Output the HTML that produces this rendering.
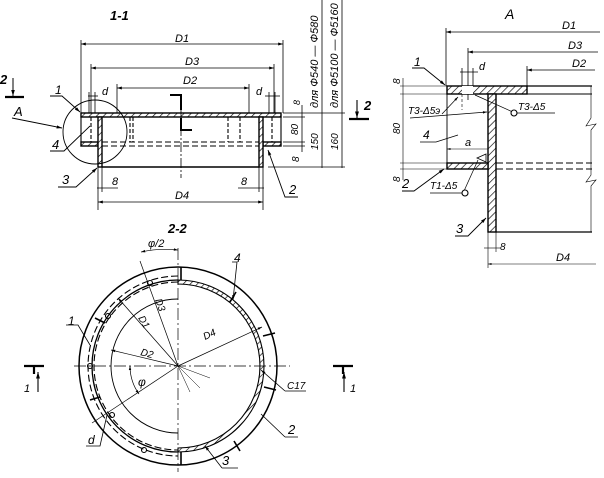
<!DOCTYPE html>
<html><head><meta charset="utf-8"><style>
html,body{margin:0;padding:0;background:#fff}
svg{display:block}
text{font-family:"Liberation Sans",sans-serif;font-style:italic;fill:#000}
</style></head><body>
<svg width="604" height="478" viewBox="0 0 604 478" xmlns="http://www.w3.org/2000/svg">
<defs>
<pattern id="h" width="5" height="5" patternUnits="userSpaceOnUse" patternTransform="rotate(45)">
<rect width="5" height="5" fill="#fff"/><line x1="0" y1="0" x2="0" y2="5" stroke="#000" stroke-width="1.3"/></pattern>
<marker id="a" viewBox="0 0 10 10" refX="10" refY="5" markerWidth="6" markerHeight="6" orient="auto-start-reverse"><path d="M0,2L10,5L0,8z" fill="#000"/></marker>
</defs>
<g stroke="#000" fill="none" stroke-width="1.1">
<!-- ===== Section 1-1 ===== -->
<text x="110" y="20" font-size="13" stroke="none" font-weight="bold">1-1</text>
<rect x="81" y="113" width="200" height="4" fill="url(#h)" stroke-width="1.4"/>
<rect x="81" y="142" width="17" height="4" fill="url(#h)" stroke-width="1.4"/>
<rect x="263" y="142" width="18" height="4" fill="url(#h)" stroke-width="1.4"/>
<rect x="98" y="117" width="4" height="50" fill="url(#h)" stroke-width="1.4"/>
<rect x="259" y="117" width="4" height="50" fill="url(#h)" stroke-width="1.4"/>
<line x1="102" y1="167" x2="259" y2="167" stroke-width="1.4"/>
<line x1="81" y1="117" x2="81" y2="142"/>
<line x1="281" y1="117" x2="281" y2="142"/>
<line x1="102" y1="142" x2="259" y2="142" stroke-dasharray="6,3"/>
<line x1="102" y1="146" x2="259" y2="146" stroke-dasharray="6,3"/>
<line x1="130" y1="117" x2="130" y2="142" stroke-dasharray="4,2"/>
<line x1="133" y1="117" x2="133" y2="142" stroke-dasharray="4,2"/>
<line x1="228" y1="117" x2="228" y2="142" stroke-dasharray="4,2"/>
<line x1="240" y1="117" x2="240" y2="142" stroke-dasharray="4,2"/>
<line x1="91" y1="117" x2="91" y2="142" stroke-dasharray="4,2"/>
<line x1="272" y1="117" x2="272" y2="142" stroke-dasharray="4,2"/>
<line x1="181" y1="110" x2="181" y2="178" stroke-dasharray="10,2,2,2" stroke-width="0.8"/>
<path d="M170,95 H181 V110" stroke-width="2"/>
<path d="M181,118 V130 H192" stroke-width="2"/>
<circle cx="95" cy="132" r="32" stroke-width="0.9"/>
<line x1="81" y1="44" x2="283" y2="44" marker-start="url(#a)" marker-end="url(#a)" stroke-width="0.8"/>
<line x1="81" y1="40" x2="81" y2="113" stroke-width="0.8"/>
<line x1="283" y1="40" x2="283" y2="113" stroke-width="0.8"/>
<text x="175" y="42" font-size="11" stroke="none">D1</text>
<line x1="91" y1="68" x2="274" y2="68" marker-start="url(#a)" marker-end="url(#a)" stroke-width="0.8"/>
<line x1="91" y1="64" x2="91" y2="113" stroke-width="0.8"/>
<line x1="274" y1="64" x2="274" y2="113" stroke-width="0.8"/>
<text x="185" y="65" font-size="11" stroke="none">D3</text>
<line x1="117" y1="88" x2="249" y2="88" marker-start="url(#a)" marker-end="url(#a)" stroke-width="0.8"/>
<line x1="117" y1="84" x2="117" y2="113" stroke-width="0.8"/>
<line x1="249" y1="84" x2="249" y2="113" stroke-width="0.8"/>
<text x="183" y="84" font-size="11" stroke="none">D2</text>
<line x1="88" y1="96" x2="98" y2="96" stroke-width="0.8"/>
<line x1="89" y1="92" x2="89" y2="113" stroke-width="0.8"/>
<line x1="95" y1="92" x2="95" y2="113" stroke-width="0.8"/>
<text x="102" y="95" font-size="11" stroke="none">d</text>
<line x1="265" y1="96" x2="280" y2="96" stroke-width="0.8"/>
<line x1="269" y1="92" x2="269" y2="113" stroke-width="0.8"/>
<line x1="275" y1="92" x2="275" y2="113" stroke-width="0.8"/>
<text x="256" y="95" font-size="11" stroke="none">d</text>
<line x1="97" y1="188" x2="118" y2="188" stroke-width="0.8"/>
<line x1="98" y1="167" x2="98" y2="210" stroke-width="0.8"/>
<line x1="102" y1="167" x2="102" y2="192" stroke-width="0.8"/>
<text x="112" y="185" font-size="11" stroke="none">8</text>
<line x1="238" y1="188" x2="264" y2="188" stroke-width="0.8"/>
<line x1="259" y1="167" x2="259" y2="192" stroke-width="0.8"/>
<line x1="263" y1="167" x2="263" y2="210" stroke-width="0.8"/>
<text x="241" y="185" font-size="11" stroke="none">8</text>
<line x1="98" y1="202" x2="263" y2="202" marker-start="url(#a)" marker-end="url(#a)" stroke-width="0.8"/>
<text x="175" y="199" font-size="11" stroke="none">D4</text>
<line x1="283" y1="113" x2="345" y2="113" stroke-width="0.8"/>
<line x1="283" y1="117" x2="305" y2="117" stroke-width="0.8"/>
<line x1="283" y1="142" x2="305" y2="142" stroke-width="0.8"/>
<line x1="283" y1="146" x2="305" y2="146" stroke-width="0.8"/>
<line x1="268" y1="167" x2="345" y2="167" stroke-width="0.8"/>
<line x1="302" y1="105" x2="302" y2="152" stroke-width="0.8"/>
<line x1="322" y1="0" x2="322" y2="168" stroke-width="0.8"/>
<line x1="342" y1="0" x2="342" y2="168" stroke-width="0.8"/>
<text x="300" y="105" font-size="9" stroke="none" transform="rotate(-90 300 105)">8</text>
<text x="298" y="135" font-size="10" stroke="none" transform="rotate(-90 298 135)">80</text>
<text x="299" y="162" font-size="10" stroke="none" transform="rotate(-90 299 162)">8</text>
<text x="318" y="150" font-size="10" stroke="none" transform="rotate(-90 318 150)">150</text>
<text x="338" y="150" font-size="10" stroke="none" transform="rotate(-90 338 150)">160</text>
<text x="318" y="108" font-size="11" stroke="none" transform="rotate(-90 318 108)">для Ф540 — Ф580</text>
<text x="338" y="108" font-size="11" stroke="none" transform="rotate(-90 338 108)">для Ф5100 — Ф5160</text>
<line x1="13" y1="78" x2="13" y2="96" marker-end="url(#a)" stroke-width="1"/>
<line x1="5" y1="97" x2="24" y2="97" stroke-width="2.2"/>
<text x="0" y="84" font-size="13" stroke="none" font-weight="bold">2</text>
<line x1="357" y1="100" x2="357" y2="118" marker-end="url(#a)"/>
<line x1="349" y1="119" x2="369" y2="119" stroke-width="2.2"/>
<text x="364" y="110" font-size="13" stroke="none" font-weight="bold">2</text>
<path d="M50,96 H62 L80,112" marker-end="url(#a)" stroke-width="0.9"/>
<text x="55" y="94" font-size="12" stroke="none">1</text>
<path d="M12,118 L62,128" marker-end="url(#a)" stroke-width="0.9"/>
<text x="14" y="116" font-size="13" stroke="none">A</text>
<path d="M50,151 H64 L90,126" stroke-width="0.9"/>
<text x="52" y="149" font-size="13" stroke="none">4</text>
<path d="M58,187 H76 L97,168" marker-end="url(#a)" stroke-width="0.9"/>
<text x="62" y="184" font-size="13" stroke="none">3</text>
<path d="M298,197 H285 L268,150" marker-end="url(#a)" stroke-width="0.9"/>
<text x="289" y="194" font-size="13" stroke="none">2</text>

<!-- ===== Detail A ===== -->
<text x="505" y="19" font-size="14" stroke="none" font-style="normal">A</text>
<line x1="446" y1="32" x2="600" y2="32" marker-start="url(#a)" stroke-width="0.8"/>
<line x1="446" y1="28" x2="446" y2="86" stroke-width="0.8"/>
<text x="562" y="29" font-size="11" stroke="none">D1</text>
<line x1="468" y1="52" x2="598" y2="52" marker-start="url(#a)" stroke-width="0.8"/>
<line x1="468" y1="48" x2="468" y2="100" stroke-width="0.8"/>
<text x="568" y="49" font-size="11" stroke="none">D3</text>
<line x1="527" y1="70" x2="595" y2="70" marker-start="url(#a)" stroke-width="0.8"/>
<line x1="527" y1="66" x2="527" y2="86" stroke-width="0.8"/>
<text x="572" y="67" font-size="11" stroke="none">D2</text>
<line x1="460" y1="72" x2="478" y2="72" stroke-width="0.8"/>
<line x1="462" y1="68" x2="462" y2="86" stroke-width="0.8"/>
<line x1="473" y1="68" x2="473" y2="86" stroke-width="0.8"/>
<text x="479" y="70" font-size="11" stroke="none">d</text>
<rect x="447" y="86" width="80" height="8" fill="url(#h)" stroke-width="1.4"/>
<rect x="462" y="86" width="11" height="8" fill="#fff" stroke="none"/>
<line x1="462" y1="94" x2="462" y2="110" stroke-width="0.6" stroke-dasharray="3,2"/>
<line x1="527" y1="86" x2="592" y2="86" stroke-width="1.3"/>
<line x1="527" y1="94" x2="592" y2="94" stroke-width="0.9"/>
<rect x="488" y="94" width="8" height="138" fill="url(#h)" stroke-width="1.4"/>
<rect x="447" y="163" width="41" height="6" fill="url(#h)" stroke-width="1.4"/>
<line x1="447" y1="94" x2="447" y2="163" stroke-width="0.9"/>
<line x1="496" y1="232" x2="592" y2="232" stroke-width="1.3"/>
<line x1="496" y1="163" x2="592" y2="163" stroke-dasharray="7,3"/>
<line x1="496" y1="169" x2="592" y2="169" stroke-dasharray="7,3"/>
<path d="M591,86 V118 L586,126 L596,124 L591,130 V175 L586,182 L596,180 L591,186 V232" stroke-width="0.6"/>
<line x1="400" y1="86" x2="447" y2="86" stroke-width="0.6"/>
<line x1="400" y1="94" x2="447" y2="94" stroke-width="0.6"/>
<line x1="400" y1="163" x2="447" y2="163" stroke-width="0.6"/>
<line x1="400" y1="169" x2="447" y2="169" stroke-width="0.6"/>
<line x1="403" y1="78" x2="403" y2="180" stroke-width="0.6"/>
<text x="400" y="84" font-size="10" stroke="none" transform="rotate(-90 400 84)">8</text>
<text x="400" y="134" font-size="10" stroke="none" transform="rotate(-90 400 134)">80</text>
<text x="400" y="182" font-size="10" stroke="none" transform="rotate(-90 400 182)">8</text>
<line x1="447" y1="149" x2="488" y2="149" marker-start="url(#a)" stroke-width="0.6"/>
<text x="465" y="146" font-size="11" stroke="none">a</text>
<line x1="488" y1="232" x2="488" y2="268" stroke-width="0.6"/>
<line x1="496" y1="232" x2="496" y2="252" stroke-width="0.6"/>
<line x1="484" y1="248" x2="500" y2="248" stroke-width="0.6"/>
<text x="500" y="250" font-size="10" stroke="none">8</text>
<line x1="488" y1="264" x2="596" y2="264" marker-start="url(#a)" stroke-width="0.6"/>
<text x="556" y="261" font-size="11" stroke="none">D4</text>
<path d="M412,68 H424 L445,85" marker-end="url(#a)" stroke-width="0.9"/>
<text x="414" y="66" font-size="12" stroke="none">1</text>
<path d="M442,114 L458,97" marker-end="url(#a)" stroke-width="0.7"/>
<path d="M410,118 L487,112" marker-end="url(#a)" stroke-width="0.7"/>
<text x="408" y="114" font-size="10" stroke="none">T3-Δ5э</text>
<path d="M475,95 L515,113 H555" stroke-width="0.7"/>
<circle cx="514" cy="113" r="3" fill="#fff"/>
<text x="518" y="110" font-size="10" stroke="none">T3-Δ5</text>
<path d="M420,142 H436 L458,135" stroke-width="0.7"/>
<text x="423" y="139" font-size="12" stroke="none">4</text>
<path d="M402,191 H414 L444,169" marker-end="url(#a)" stroke-width="0.9"/>
<text x="402" y="188" font-size="13" stroke="none">2</text>
<path d="M477,158 L486,154 L486,162 Z" stroke-width="0.8"/>
<path d="M464,191 L478,160" stroke-width="0.7"/>
<circle cx="465" cy="193" r="3" fill="#fff"/>
<line x1="430" y1="193" x2="462" y2="193" stroke-width="0.7"/>
<text x="430" y="189" font-size="10" stroke="none">T1-Δ5</text>
<path d="M455,236 H468 L486,218" marker-end="url(#a)" stroke-width="0.9"/>
<text x="456" y="233" font-size="13" stroke="none">3</text>

<!-- ===== Section 2-2 ===== -->
<text x="168" y="233" font-size="13" stroke="none" font-weight="bold">2-2</text>
<circle cx="178" cy="366" r="99" stroke-width="1.5"/>
<path d="M178,280 A86,86 0 0 1 178,452 L178,448 A82,82 0 0 0 178,284 Z" fill="url(#h)" stroke-width="1.1"/>
<path d="M178,280 A86,86 0 0 0 178,452" stroke-width="1.3"/>
<path d="M178,276 A90,90 0 0 0 178,456" stroke-dasharray="7,3"/>
<path d="M178,282 A84,84 0 0 0 178,450" stroke-dasharray="7,3"/>
<path d="M178,299 A67,67 0 0 0 178,433" stroke-width="0.9"/>
<line x1="74" y1="366" x2="290" y2="366" stroke-dasharray="12,3,2,3" stroke-width="0.7"/>
<line x1="178" y1="248" x2="178" y2="472" stroke-dasharray="12,3,2,3" stroke-width="0.7"/>
<g stroke-width="1.6">
<line x1="181" y1="267" x2="181" y2="280"/><line x1="181" y1="452" x2="181" y2="465"/>
<line x1="236" y1="292" x2="230" y2="302"/><line x1="263" y1="336" x2="275" y2="333"/>
<line x1="264" y1="387" x2="276" y2="390"/><line x1="234" y1="441" x2="240" y2="451"/>
<line x1="95" y1="318" x2="105" y2="323"/><line x1="90" y1="400" x2="100" y2="397"/>
</g>
<circle cx="150" cy="283" r="2.5"/><circle cx="108" cy="316" r="2.5"/>
<circle cx="90" cy="366" r="2.5"/><circle cx="144" cy="450" r="2.5"/>
<circle cx="112" cy="415" r="2.5"/>
<line x1="178" y1="366" x2="140" y2="261" stroke-width="0.7"/>
<line x1="178" y1="366" x2="118" y2="298" marker-end="url(#a)" stroke-width="0.7"/>
<line x1="178" y1="366" x2="111" y2="350" marker-end="url(#a)" stroke-width="0.7"/>
<line x1="178" y1="366" x2="262" y2="327" marker-end="url(#a)" stroke-width="0.7"/>
<line x1="178" y1="366" x2="92" y2="423" stroke-width="0.7"/>
<line x1="178" y1="366" x2="210" y2="378" stroke-width="0.5"/>
<line x1="178" y1="366" x2="200" y2="388" stroke-width="0.5"/>
<line x1="178" y1="366" x2="190" y2="392" stroke-width="0.5"/>
<text x="138" y="318" font-size="10" stroke="none" transform="rotate(60 138 318)">D1</text>
<text x="155" y="300" font-size="10" stroke="none" transform="rotate(70 155 300)">D3</text>
<text x="140" y="355" font-size="10" stroke="none" transform="rotate(15 140 355)">D2</text>
<text x="205" y="340" font-size="10" stroke="none" transform="rotate(-25 205 340)">D4</text>
<path d="M130,366 A48,48 0 0 0 139,394" marker-start="url(#a)" marker-end="url(#a)" stroke-width="0.7"/>
<text x="138" y="386" font-size="12" stroke="none">φ</text>
<path d="M141,252 A116,116 0 0 1 178,250" marker-start="url(#a)" marker-end="url(#a)" stroke-width="0.7"/>
<text x="148" y="247" font-size="11" stroke="none">φ/2</text>
<path d="M232,262 H237 L233,300" marker-end="url(#a)" stroke-width="0.8"/>
<text x="234" y="262" font-size="12" stroke="none">4</text>
<path d="M66,325 H78 L90,345" stroke-width="0.8"/>
<text x="68" y="325" font-size="12" stroke="none">1</text>
<path d="M285,391 H306 M285,391 L261,370" marker-end="url(#a)" stroke-width="0.8"/>
<text x="287" y="389" font-size="10" stroke="none">C17</text>
<path d="M285,437 H298 M285,437 L261,414" stroke-width="0.8"/>
<text x="288" y="434" font-size="13" stroke="none">2</text>
<path d="M222,468 H238 M222,468 L205,446" marker-end="url(#a)" stroke-width="0.8"/>
<text x="222" y="465" font-size="13" stroke="none">3</text>
<path d="M86,446 H100 L107,415" stroke-width="0.8"/>
<text x="88" y="444" font-size="12" stroke="none">d</text>
<line x1="24" y1="366" x2="44" y2="366" stroke-width="2.2"/>
<line x1="34" y1="367" x2="34" y2="374" stroke-width="2.2"/>
<line x1="38" y1="392" x2="38" y2="372" marker-end="url(#a)"/>
<text x="24" y="392" font-size="11" stroke="none">1</text>
<line x1="333" y1="366" x2="353" y2="366" stroke-width="2.2"/>
<line x1="343" y1="367" x2="343" y2="374" stroke-width="2.2"/>
<line x1="344" y1="392" x2="344" y2="372" marker-end="url(#a)"/>
<text x="350" y="392" font-size="11" stroke="none">1</text>
</g>
</svg>
</body></html>
